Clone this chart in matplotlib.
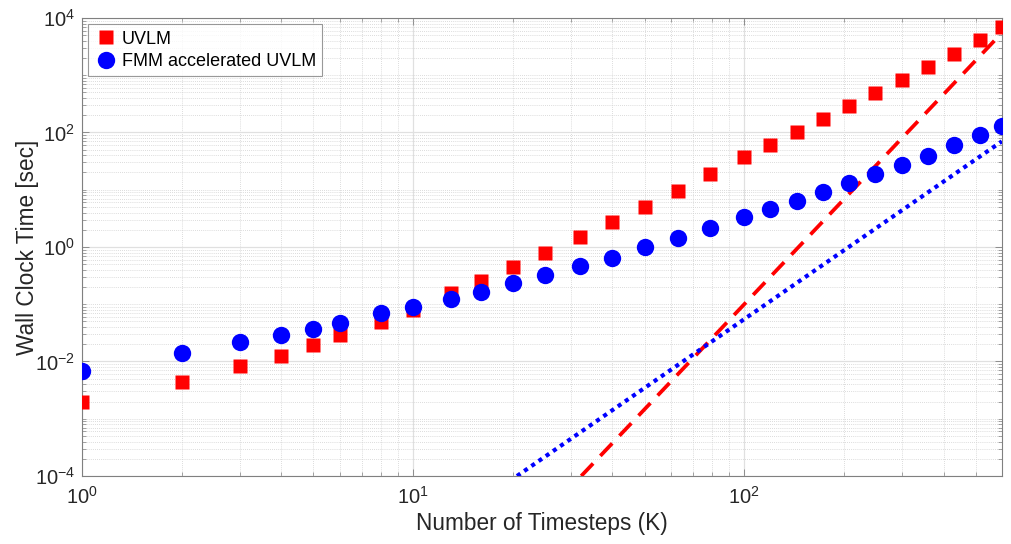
import numpy as np
import matplotlib
matplotlib.use("Agg")
import matplotlib.pyplot as plt
from matplotlib.ticker import LogLocator, FixedLocator, FuncFormatter, NullFormatter

plt.rcParams['font.family'] = ['Liberation Sans', 'DejaVu Sans']
plt.rcParams['mathtext.fontset'] = 'custom'
plt.rcParams['mathtext.rm'] = 'Liberation Sans'
plt.rcParams['mathtext.it'] = 'Liberation Sans'

# data
timesteps = [1, 2, 3, 4, 5, 6, 8, 10, 13, 16, 20, 25, 32, 40, 50, 63, 79, 100,
             120, 144, 173, 207, 249, 299, 358, 430, 516, 600]
uvlm = [0.00197, 0.00442, 0.0083, 0.0124, 0.0191, 0.0286, 0.049, 0.079, 0.155,
        0.258, 0.453, 0.776, 1.50, 2.74, 5.07, 9.6, 19.1, 37, 60.7, 102, 175,
        292, 486, 832, 1419, 2366, 4155, 6925]
fmm = [0.0068, 0.0139, 0.0218, 0.0286, 0.0368, 0.0475, 0.069, 0.0905, 0.125,
       0.166, 0.232, 0.33, 0.46, 0.64, 0.98, 1.45, 2.12, 3.31, 4.67, 6.45,
       9.04, 13.0, 18.9, 26.8, 38.9, 60, 90.8, 130]

# reference slopes
ref_red_x = [32.2, 600]
ref_red_y = [1e-4, 5.5e3]
ref_blue_x = [20.6, 600]
ref_blue_y = [1e-4, 70]

xticks = [1, 10, 100]
yticks = [1e-4, 1e-2, 1e0, 1e2, 1e4]

fig = plt.figure(figsize=(10.11, 5.44), dpi=100)
ax = fig.add_axes([0.081, 0.125, 0.910, 0.842])

ax.plot(timesteps, uvlm, 's', color='#ff0000', ms=9.5, mec='none', label='UVLM', zorder=4)
ax.plot(timesteps, fmm, 'o', color='#0000ff', ms=12.5, mec='none',
        label='FMM accelerated UVLM', zorder=4)
ax.plot(ref_red_x, ref_red_y, color='#ff0000', lw=2.7, dashes=(4.6, 2.8), zorder=3)
ax.plot(ref_blue_x, ref_blue_y, color='#0000ff', lw=3.0, dashes=(1, 1.1), zorder=3)

ax.set_xscale('log')
ax.set_yscale('log')
ax.set_xlim(1, 600)
ax.set_ylim(1e-4, 1e4)

def pow_fmt(v, pos):
    e = int(round(np.log10(v)))
    return r'$\mathregular{10^{%d}}$' % e

ax.xaxis.set_major_locator(FixedLocator(xticks))
ax.xaxis.set_minor_locator(LogLocator(base=10, subs=np.arange(2, 10), numticks=20))
ax.yaxis.set_major_locator(FixedLocator(yticks))
ax.yaxis.set_minor_locator(LogLocator(base=10, subs=np.arange(1, 10), numticks=40))
ax.xaxis.set_major_formatter(FuncFormatter(pow_fmt))
ax.yaxis.set_major_formatter(FuncFormatter(pow_fmt))
ax.xaxis.set_minor_formatter(NullFormatter())
ax.yaxis.set_minor_formatter(NullFormatter())

ax.tick_params(which='both', direction='in', top=True, right=True, colors='#808080',
               labelcolor='#262626', labelsize=14.5)
ax.tick_params(which='major', length=5, width=0.6)
ax.tick_params(which='minor', length=3, width=0.5)
ax.tick_params(axis='x', pad=7)
ax.tick_params(axis='y', pad=5)

ax.grid(True, which='major', color='#e0e0e0', lw=0.9, ls='-')
ax.grid(True, which='minor', color='#d0d0d0', lw=0.6, ls=(0, (1, 1.5)))
ax.set_axisbelow(True)
for sp in ax.spines.values():
    sp.set_color('#808080')
    sp.set_linewidth(0.8)

ax.set_xlabel('Number of Timesteps (K)', fontsize=16.3, color='#262626', labelpad=3)
ax.set_ylabel('Wall Clock Time [sec]', fontsize=16.3, color='#262626')
ax.yaxis.set_label_coords(-0.047, 0.5)

leg = ax.legend(loc='upper left', fontsize=13.0, frameon=True, fancybox=False,
                borderpad=0.35, handletextpad=0.2, handlelength=1.3,
                labelspacing=0.3, borderaxespad=0.35)
leg.get_frame().set_edgecolor('#808080')
leg.get_frame().set_linewidth(0.8)

fig.savefig('out.png', dpi=100)
